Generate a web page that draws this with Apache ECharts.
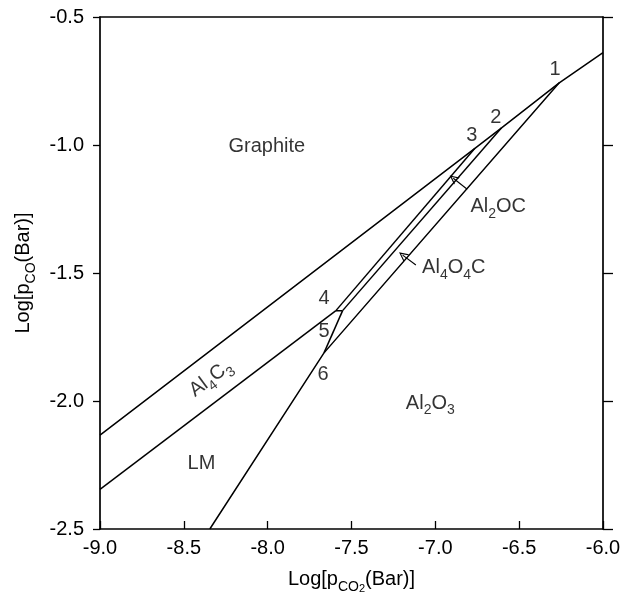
<!DOCTYPE html>
<html>
<head>
<meta charset="utf-8">
<script src="https://cdn.jsdelivr.net/npm/echarts@6/dist/echarts.min.js"></script>
<style>html,body{margin:0;padding:0;background:#fff}#c{width:637px;height:602px}</style>
</head>
<body>
<div id="c"></div>
<script>
// ---- data ----
const xTickValues = [-9.0, -8.5, -8.0, -7.5, -7.0, -6.5, -6.0];
const xTickLabels = ['-9.0', '-8.5', '-8.0', '-7.5', '-7.0', '-6.5', '-6.0'];
const yTickValues = [-0.5, -1.0, -1.5, -2.0, -2.5];
const yTickLabels = ['-0.5', '-1.0', '-1.5', '-2.0', '-2.5'];

// Graphite / Al4C3 boundary (through invariant points 3, 2, 1)
const graphiteX = [-9.0, -6.764, -6.605, -6.261, -6.0];
const graphiteY = [-2.133, -1.013, -0.933, -0.757, -0.639];
// Al4C3 / LM boundary (to point 4)
const lmX = [-9.0, -7.593];
const lmY = [-2.345, -1.647];
// Al2OC band, lower-left edge (point 4 -> point 3)
const bandAX = [-7.593, -6.764];
const bandAY = [-1.647, -1.013];
// short connector at point 4
const connX = [-7.593, -7.553];
const connY = [-1.647, -1.647];
// Al2OC band, lower-right edge (-> point 2)
const bandBX = [-7.553, -6.605];
const bandBY = [-1.647, -0.933];
// segment down to point 6
const seg6X = [-7.553, -7.664];
const seg6Y = [-1.647, -1.812];
// Al2O3 boundary (bottom -> point 6 -> point 1)
const al2o3X = [-8.345, -7.664, -6.261];
const al2o3Y = [-2.5, -1.812, -0.757];

// region labels
const regionText = ['Graphite', 'LM', 'Al{s|2}O{s|3}', 'Al{s|2}OC', 'Al{s|4}O{s|4}C'];
const regionX = [-8.005, -8.395, -7.030, -6.625, -6.890];
const regionY = [-1.004, -2.246, -2.008, -1.242, -1.480];
// rotated Al4C3 label
const al4c3Text = 'Al{s|4}C{s|3}';
const al4c3X = -8.340;
const al4c3Y = -1.912;
// invariant point numbers
const pointText = ['1', '2', '3', '4', '5', '6'];
const pointX = [-6.286, -6.639, -6.782, -7.664, -7.664, -7.670];
const pointY = [-0.705, -0.893, -0.961, -1.598, -1.727, -1.895];
// arrows (tail -> tip)
const arrowTails = [[-6.810, -1.173], [-7.116, -1.469]];
const arrowTips = [[-6.893, -1.130], [-7.195, -1.430]];

// ---- chart ----
const FONT = '"Liberation Sans", Arial, Helvetica, sans-serif';
const FS = 20;
const zip = (xs, ys) => xs.map((x, i) => [x, ys[i]]);
const rich = {
  n: { fontSize: FS, fontFamily: FONT, color: '#000', lineHeight: 29, verticalAlign: 'middle' },
  s: { fontSize: 14, fontFamily: FONT, color: '#000', lineHeight: 14, verticalAlign: 'bottom' },
  ss: { fontSize: 11, fontFamily: FONT, color: '#000', lineHeight: 9, verticalAlign: 'bottom' }
};
function wrapRich(t) {
  return t.replace(/(^|\})([^{}]+)(?=\{|$)/g, (m, a, b) => a + '{n|' + b + '}');
}
function lineSeries(xs, ys) {
  return {
    type: 'line', data: zip(xs, ys), symbol: 'none', silent: true, z: 3,
    lineStyle: { color: '#000', width: 1.5 }, animation: false
  };
}
function textSeries(xs, ys, texts, rotate) {
  return {
    type: 'scatter', symbolSize: 0, silent: true, z: 4, animation: false,
    data: xs.map((x, i) => ({ value: [x, ys[i]], name: texts[i] })),
    label: {
      show: true, position: 'inside', rotate: rotate || 0,
      formatter: p => wrapRich(p.name), rich: rich, color: '#000'
    }
  };
}
const tickFmt = (vals, labs) => v => {
  const i = vals.findIndex(t => Math.abs(t - v) < 1e-6);
  return i >= 0 ? labs[i] : '';
};
const axisLineStyle = { color: '#000', width: 1.7 };

const option = {
  backgroundColor: '#fff',
  animation: false,
  grid: { left: 100, right: 34, top: 17, bottom: 73, outerBoundsMode: 'none' },
  xAxis: [{
    type: 'value', min: -9.0, max: -6.0, interval: 0.5, position: 'bottom',
    axisLine: { show: true, lineStyle: axisLineStyle },
    axisTick: { show: true, inside: true, length: 8, lineStyle: { color: '#000', width: 1.3 } },
    splitLine: { show: false },
    axisLabel: { color: '#000', fontSize: FS, fontFamily: FONT, margin: 9, formatter: tickFmt(xTickValues, xTickLabels) },
    name: '{n|Log[p}{s|CO}{ss|2}{n|(Bar)]}', nameLocation: 'middle', nameGap: 36,
    nameTextStyle: { rich: rich }
  }, {
    type: 'value', min: -9.0, max: -6.0, interval: 0.5, position: 'top',
    axisLine: { show: true, lineStyle: axisLineStyle },
    axisTick: { show: false }, axisLabel: { show: false }, splitLine: { show: false }
  }],
  yAxis: [{
    type: 'value', min: -2.5, max: -0.5, interval: 0.5, position: 'left',
    axisLine: { show: true, lineStyle: axisLineStyle },
    axisTick: { show: true, inside: false, length: 7, lineStyle: { color: '#000', width: 1.3 } },
    splitLine: { show: false },
    axisLabel: { color: '#000', fontSize: FS, fontFamily: FONT, margin: 16, formatter: tickFmt(yTickValues, yTickLabels) },
    name: '{n|Log[p}{s|CO}{n|(Bar)]}', nameLocation: 'middle', nameGap: 62, nameRotate: 90,
    nameTextStyle: { rich: rich }
  }, {
    type: 'value', min: -2.5, max: -0.5, interval: 0.5, position: 'right',
    axisLine: { show: true, lineStyle: axisLineStyle },
    axisTick: { show: true, inside: false, length: 10, lineStyle: { color: '#000', width: 1.3 } },
    axisLabel: { show: false }, splitLine: { show: false }
  }],
  series: [
    lineSeries(graphiteX, graphiteY),
    lineSeries(lmX, lmY),
    lineSeries(bandAX, bandAY),
    lineSeries(connX, connY),
    lineSeries(bandBX, bandBY),
    lineSeries(seg6X, seg6Y),
    lineSeries(al2o3X, al2o3Y),
    textSeries(regionX, regionY, regionText),
    textSeries([al4c3X], [al4c3Y], [al4c3Text], 37),
    textSeries(pointX, pointY, pointText),
    {
      type: 'lines', coordinateSystem: 'cartesian2d', silent: true, z: 4, animation: false,
      symbol: ['none', 'path://M0,10 L5,0 L10,10 L8.6,10 L5,2.8 L1.4,10 Z'], symbolSize: [9, 9],
      lineStyle: { color: '#000', width: 1.1, opacity: 1 },
      itemStyle: { color: '#000' },
      data: arrowTails.map((t, i) => ({ coords: [t, arrowTips[i]] }))
    }
  ]
};
const chart = echarts.init(document.getElementById('c'), null, { renderer: 'canvas' });
chart.setOption(option);
</script>
</body>
</html>
